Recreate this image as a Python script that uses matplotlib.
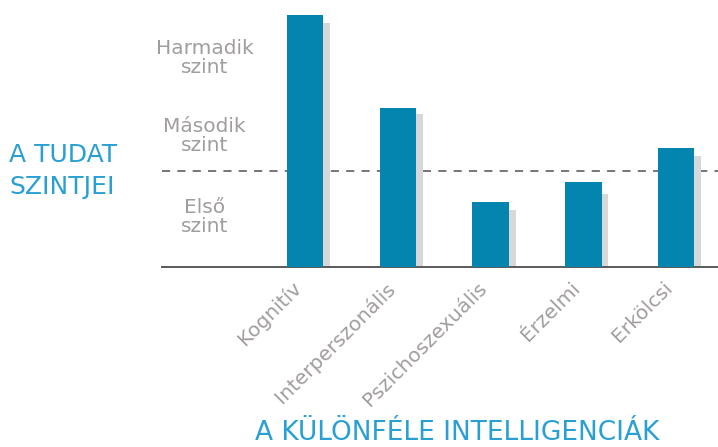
import matplotlib
matplotlib.use('Agg')
import matplotlib.pyplot as plt
from matplotlib.transforms import ScaledTranslation

# data (dashed line = 1.0)
categories = ['Kognitív', 'Interperszonális', 'Pszichoszexuális', 'Érzelmi', 'Erkölcsi']
values = [2.62, 1.66, 0.68, 0.89, 1.24]
shadow_values = [2.54, 1.59, 0.59, 0.76, 1.16]
level_labels = ['Első\nszint', 'Második\nszint', 'Harmadik\nszint']
level_pos = [0.52, 1.36, 2.18]
threshold = 1.0

bar_color = '#0485b0'
shadow_color = '#d7d8da'
grey_text = '#a19d9d'
blue_text = '#2a9fd3'

plt.rcParams['font.family'] = ['DejaVu Sans']

fig = plt.figure(figsize=(7.18, 4.47), dpi=100)
ax = fig.add_axes([162 / 718, 180 / 447, 556 / 718, 262 / 447])

x = list(range(len(categories)))
ax.bar([i + 0.075 for i in x], shadow_values, width=0.39, color=shadow_color, zorder=2)
ax.bar(x, values, width=0.39, color=bar_color, zorder=3)

ax.axhline(threshold, color='#6b6b6b', linestyle=(0, (4.5, 4)), linewidth=1.3, zorder=1)

ax.set_xlim(-1.54, 4.45)
ax.set_ylim(0, 262 / 96)

for s in ['top', 'right', 'left']:
    ax.spines[s].set_visible(False)
ax.spines['bottom'].set_color('#5a5a5a')
ax.spines['bottom'].set_linewidth(1.4)
ax.set_yticks([])
ax.set_xticks(x)
ax.set_xticklabels(categories, rotation=45, ha='right', va='top',
                   rotation_mode='anchor', fontsize=14.5, color=grey_text)
ax.tick_params(axis='x', length=0, pad=8)
# nudge the slanted labels a bit to the left, like in the original
shift = ScaledTranslation(-0.13, 0, fig.dpi_scale_trans)
for lab in ax.get_xticklabels():
    lab.set_transform(lab.get_transform() + shift)

for lab, pos in zip(level_labels, level_pos):
    ax.text(-1.08, pos, lab, ha='center', va='center', fontsize=14.5,
            color=grey_text, linespacing=1.0)

fig.text(9 / 718, 1 - 171 / 447, 'A TUDAT\nSZINTJEI', ha='left', va='center',
         fontsize=18, color=blue_text, linespacing=1.4)
fig.text(457 / 718, 1 - 433 / 447, 'A KÜLÖNFÉLE INTELLIGENCIÁK', ha='center',
         va='center', fontsize=19, color=blue_text)

fig.savefig('out.png', dpi=100)
